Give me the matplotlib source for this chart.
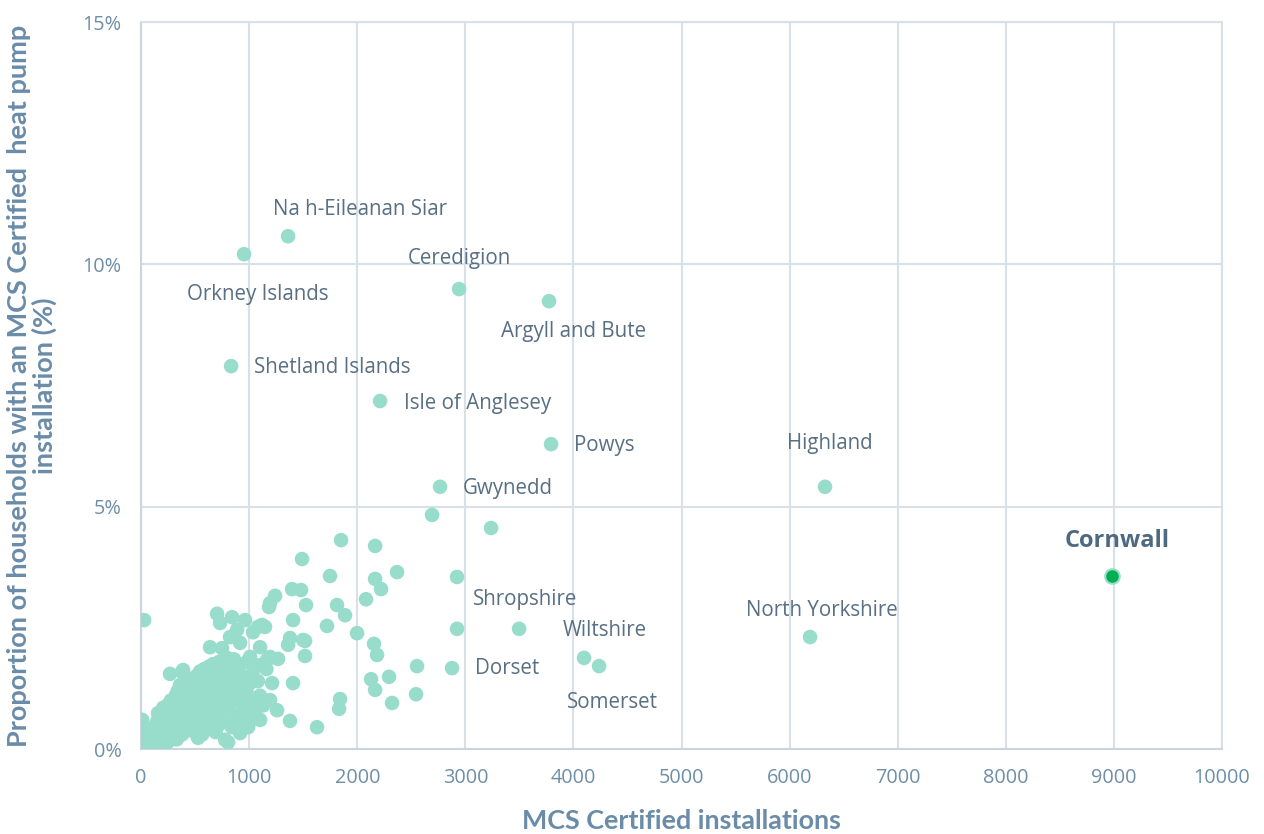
import matplotlib
matplotlib.use("Agg")
import matplotlib.pyplot as plt
from matplotlib.ticker import FuncFormatter, MultipleLocator

# labelled local authorities: installations, share of households (%)
named_areas = ["Na h-Eileanan Siar", "Orkney Islands", "Ceredigion", "Argyll and Bute",
               "Shetland Islands", "Isle of Anglesey", "Powys", "Highland", "Gwynedd",
               "North Yorkshire", "Shropshire", "Wiltshire", "Dorset", "Somerset"]
named_x = [1360, 953, 2942, 3774, 833, 2211, 3793, 6327, 2766, 6189, 3497, 4098, 2877, 4237]
named_y = [10.58, 10.21, 9.49, 9.24, 7.90, 7.18, 6.29, 5.41, 5.41, 2.31, 2.48, 1.88, 1.67, 1.71]

highlight_area = "Cornwall"
highlight_x = 8982
highlight_y = 3.57

# remaining local authorities (unlabelled)
other_x = [
    2692, 3238, 1850, 2165, 1489, 1748, 2368, 2165, 2220, 2923, 2081, 1397, 1480, 1526,
    1813, 1887, 1720, 1998, 2923, 1517, 1517, 2155, 2183, 2553, 2128, 2294, 2165, 2544,
    2322, 1841, 1832, 1628, 1240, 1184, 1406, 703, 842, 962, 731, 1082, 1147, 823, 916,
    638, 749, 1101, 1378, 1360, 1499, 796, 1193, 1267, 981, 1101, 1008, 1212, 1406, 389,
    268, 379, 361, 28, 1073, 1193, 1258, 1101, 1378, 805, 916, 990, 962, 916, 1119, 1036,
    888, 1166, 1008, 9, 157, 777, 527, 1193,
    0, 5, 12, 20, 25, 35, 40, 50, 55, 65, 70, 80, 85, 95, 10, 15, 8, 0,
    100, 105, 115, 120, 130, 135, 140, 150, 155, 160, 170, 175, 180, 190, 195, 200, 205,
    210, 220, 225, 230, 240, 245, 250, 255, 260, 270, 275, 280, 290, 295,
    300, 305, 310, 320, 325, 330, 335, 340, 350, 355, 360, 370, 375, 380, 390, 395, 400,
    410, 415, 420, 430, 435, 440, 450, 455, 460, 470, 475, 480, 490, 495,
    500, 505, 510, 520, 525, 530, 540, 545, 550, 560, 565, 570, 580, 585, 590, 600, 605,
    610, 620, 625, 630, 640, 645, 650, 660, 665, 670, 680, 685, 690, 700,
    705, 710, 720, 725, 730, 740, 745, 750, 760, 770, 780, 790, 800, 810, 820, 830, 840,
    850, 860, 870, 880, 890, 900, 910, 920, 935, 950, 960, 975, 990,
    1010, 1030, 1050, 1080, 1100, 1130, 1160,
]
other_y = [
    4.83, 4.56, 4.31, 4.19, 3.92, 3.57, 3.65, 3.51, 3.30, 3.55, 3.09, 3.30, 3.28, 2.97,
    2.97, 2.76, 2.54, 2.39, 2.48, 2.23, 1.92, 2.17, 1.94, 1.71, 1.44, 1.49, 1.22, 1.13,
    0.95, 1.03, 0.83, 0.45, 3.16, 2.93, 2.66, 2.79, 2.72, 2.66, 2.60, 2.52, 2.52, 2.31, 2.19,
    2.10, 2.08, 2.10, 2.29, 2.15, 2.25, 1.88, 1.90, 1.86, 1.80, 1.73, 1.36, 1.36, 1.36, 1.63,
    1.55, 1.59, 1.32, 2.66, 0.87, 1.01, 0.80, 0.60, 0.58, 0.14, 0.33, 0.45, 0.80, 1.07, 2.56, 2.41,
    2.46, 1.84, 1.90, 0.60, 0.74, 0.19, 0.23, 3.01,
    0.00, 0.05, 0.12, 0.03, 0.20, 0.08, 0.30, 0.15, 0.02, 0.25, 0.10, 0.35, 0.05, 0.20, 0.30, 0.45, 0.60, 0.15,
    0.30, 0.12, 0.40, 0.22, 0.05, 0.50, 0.30, 0.15, 0.60, 0.40, 0.25, 0.72, 0.50, 0.10, 0.35, 0.65, 0.85,
    0.20, 0.45, 0.75, 0.30, 0.60, 0.90, 0.15, 0.40, 0.70, 0.50, 1.00, 0.25, 0.80, 0.55,
    0.35, 0.95, 0.70, 1.10, 0.50, 0.20, 0.85, 1.20, 0.60, 0.40, 1.00, 0.75, 1.30, 0.30, 0.90, 1.15, 0.55,
    1.05, 0.80, 1.40, 0.45, 1.20, 0.95, 0.70, 1.30, 1.10, 0.50, 0.85, 1.45, 1.00, 0.35,
    1.20, 0.65, 1.50, 0.90, 1.35, 0.45, 1.05, 1.60, 0.75, 1.25, 0.30, 1.45, 0.95, 1.65, 0.60, 1.15, 1.50,
    0.40, 1.30, 0.85, 1.70, 1.05, 0.55, 1.40, 1.20, 1.75, 0.70, 1.50, 0.90, 0.35, 1.30,
    1.65, 1.00, 0.50, 1.80, 1.20, 0.80, 1.55, 1.40, 1.00, 1.85, 0.60, 1.30, 1.60, 0.90, 1.75, 1.15, 0.45,
    1.50, 1.85, 0.70, 1.35, 1.00, 1.70, 0.55, 1.25, 0.95, 1.50, 0.75, 1.20, 0.50,
    1.00, 1.55, 0.70, 1.40, 1.10, 0.90, 1.65,
]

# label offsets from the dot, in pixels (dx, dy, horizontal alignment)
label_offsets = {
    "Na h-Eileanan Siar": (72, 27, "center"),
    "Orkney Islands": (14, -40, "center"),
    "Ceredigion": (0, 31, "center"),
    "Argyll and Bute": (25, -30, "center"),
    "Shetland Islands": (23, -1, "left"),
    "Isle of Anglesey": (24, -2, "left"),
    "Powys": (23, -1, "left"),
    "Highland": (5, 43, "center"),
    "Gwynedd": (23, -2, "left"),
    "North Yorkshire": (12, 27, "center"),
    "Shropshire": (6, 29, "center"),
    "Wiltshire": (21, 27, "center"),
    "Dorset": (23, 0, "left"),
    "Somerset": (13, -36, "center"),
}

DOT = "#98dccb"
GRID = "#d9e1e8"
TICK_COLOR = "#6f8ea8"
TITLE_COLOR = "#6a8ca8"
LABEL_COLOR = "#586f84"

fig, ax = plt.subplots(figsize=(12.64, 8.34), dpi=100)
fig.subplots_adjust(left=0.1116, right=0.9668, top=0.9736, bottom=0.1019)

ax.scatter(other_x, other_y, s=110, color=DOT, edgecolors="none", zorder=3)
ax.scatter(named_x, named_y, s=110, color=DOT, edgecolors="none", zorder=3)
ax.scatter([highlight_x], [highlight_y], s=110, color="#00b050", edgecolors=DOT,
           linewidths=1.5, zorder=4)

for name, x, y in zip(named_areas, named_x, named_y):
    dx, dy, ha = label_offsets[name]
    ax.annotate(name, (x, y), xytext=(dx, dy), textcoords="offset pixels",
                ha=ha, va="center", fontsize=14.8, color=LABEL_COLOR, family="Open Sans")

ax.annotate(highlight_area, (highlight_x, highlight_y), xytext=(5, 35),
            textcoords="offset pixels", ha="center", va="center", fontsize=17,
            fontweight="bold", color="#4e6a80", family="Open Sans")

ax.set_xlim(0, 10000)
ax.set_ylim(0, 15)
ax.xaxis.set_major_locator(MultipleLocator(1000))
ax.yaxis.set_major_locator(MultipleLocator(5))
ax.yaxis.set_major_formatter(FuncFormatter(lambda v, p: f"{v:.0f}%"))
ax.grid(True, color=GRID, linewidth=1.5, zorder=0)
ax.set_axisbelow(True)
for side in ["left", "bottom", "top", "right"]:
    ax.spines[side].set_color(GRID)
    ax.spines[side].set_linewidth(1.5)
ax.spines["left"].set_color("#ccd5de")
ax.spines["bottom"].set_color("#ccd5de")

ax.tick_params(length=0, pad=14, labelsize=14.3, colors=TICK_COLOR)
for lbl in ax.get_xticklabels() + ax.get_yticklabels():
    lbl.set_family("Open Sans")

ax.set_xlabel("MCS Certified installations", fontsize=19.4, fontweight="bold",
              color=TITLE_COLOR, family="Lato", labelpad=15)
ax.set_ylabel("Proportion of households with an MCS Certified  heat pump\ninstallation (%)",
              fontsize=19.5, fontweight="bold", color=TITLE_COLOR, family="Lato",
              labelpad=18, linespacing=1.05)

fig.savefig("out.png", dpi=100)
